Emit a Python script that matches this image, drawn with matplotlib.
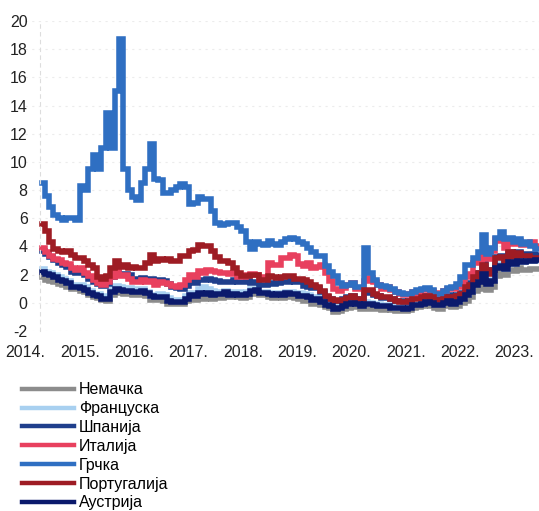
import numpy as np
import matplotlib
matplotlib.use("Agg")
import matplotlib.pyplot as plt

plt.rcParams['font.family'] = ['Liberation Sans', 'DejaVu Sans']

# Monthly 10-year government bond yields, Jan 2014 - Jun 2023 (%)
germany = [
    1.80, 1.65, 1.57, 1.50, 1.35, 1.30, 1.15, 0.95, 0.98, 0.85, 0.75, 0.58,
    0.40, 0.33, 0.20, 0.15, 0.55, 0.80, 0.70, 0.65, 0.62, 0.55, 0.55, 0.60,
    0.45, 0.20, 0.18, 0.20, 0.15, -0.05, -0.10, -0.08, -0.10, 0.10, 0.25, 0.22,
    0.40, 0.25, 0.35, 0.25, 0.35, 0.35, 0.55, 0.38, 0.45, 0.38, 0.37, 0.40,
    0.65, 0.70, 0.55, 0.55, 0.40, 0.35, 0.40, 0.35, 0.45, 0.40, 0.35, 0.25,
    0.15, 0.10, -0.05, 0.00, -0.15, -0.30, -0.40, -0.65, -0.55, -0.45, -0.35, -0.25,
    -0.30, -0.45, -0.45, -0.45, -0.45, -0.42, -0.48, -0.45, -0.50, -0.60, -0.55, -0.57,
    -0.52, -0.35, -0.30, -0.22, -0.15, -0.20, -0.40, -0.45, -0.25, -0.12, -0.30, -0.20,
    0.00, 0.15, 0.40, 0.85, 1.00, 1.50, 0.90, 1.10, 1.90, 2.20, 2.00, 2.35,
    2.25, 2.45, 2.35, 2.35, 2.40, 2.40]
france = [
    2.40, 2.20, 2.10, 2.00, 1.80, 1.70, 1.55, 1.30, 1.30, 1.25, 1.10, 0.85,
    0.60, 0.65, 0.50, 0.40, 0.90, 1.20, 1.10, 1.05, 1.05, 0.90, 0.95, 1.00,
    0.75, 0.50, 0.55, 0.60, 0.55, 0.35, 0.15, 0.20, 0.18, 0.45, 0.70, 0.70,
    1.00, 1.10, 1.00, 0.85, 0.75, 0.80, 0.85, 0.70, 0.75, 0.80, 0.70, 0.78,
    0.95, 0.90, 0.75, 0.80, 0.70, 0.70, 0.70, 0.65, 0.80, 0.75, 0.70, 0.70,
    0.60, 0.55, 0.35, 0.40, 0.25, 0.00, -0.10, -0.35, -0.25, -0.05, 0.00, 0.10,
    0.05, -0.10, 0.05, 0.00, -0.05, -0.10, -0.15, -0.15, -0.25, -0.35, -0.30, -0.35,
    -0.25, -0.05, -0.05, 0.15, 0.20, 0.15, -0.05, -0.05, 0.15, 0.25, 0.10, 0.20,
    0.40, 0.65, 1.00, 1.45, 1.55, 2.15, 1.50, 1.65, 2.60, 2.75, 2.40, 2.95,
    2.75, 3.00, 2.90, 2.95, 2.95, 2.95]
spain = [
    3.70, 3.50, 3.25, 3.05, 2.85, 2.65, 2.55, 2.20, 2.15, 2.15, 1.95, 1.70,
    1.45, 1.35, 1.20, 1.35, 1.80, 2.25, 2.00, 2.05, 1.95, 1.70, 1.60, 1.75,
    1.55, 1.70, 1.45, 1.60, 1.55, 1.35, 1.10, 1.05, 0.95, 1.20, 1.55, 1.40,
    1.65, 1.65, 1.70, 1.60, 1.55, 1.50, 1.50, 1.45, 1.60, 1.50, 1.45, 1.55,
    1.40, 1.50, 1.25, 1.25, 1.40, 1.35, 1.40, 1.45, 1.50, 1.60, 1.50, 1.45,
    1.20, 1.15, 1.05, 1.05, 0.75, 0.40, 0.30, 0.10, 0.15, 0.25, 0.40, 0.45,
    0.30, 0.25, 0.70, 0.75, 0.55, 0.45, 0.35, 0.35, 0.25, 0.15, 0.10, 0.05,
    0.10, 0.40, 0.35, 0.45, 0.50, 0.40, 0.25, 0.30, 0.40, 0.55, 0.45, 0.55,
    0.70, 1.20, 1.40, 1.95, 2.10, 2.80, 2.15, 2.30, 3.25, 3.30, 2.90, 3.60,
    3.30, 3.60, 3.40, 3.45, 3.50, 3.40]
italy = [
    3.90, 3.60, 3.30, 3.10, 3.05, 2.85, 2.75, 2.45, 2.35, 2.45, 2.15, 1.90,
    1.65, 1.40, 1.25, 1.45, 1.85, 2.35, 1.90, 1.95, 1.70, 1.50, 1.50, 1.60,
    1.45, 1.55, 1.25, 1.50, 1.40, 1.35, 1.20, 1.15, 1.25, 1.65, 2.00, 1.85,
    2.25, 2.15, 2.35, 2.25, 2.20, 2.15, 2.10, 2.05, 2.15, 1.85, 1.80, 2.00,
    2.05, 1.95, 1.80, 1.80, 2.80, 2.70, 2.70, 3.20, 3.15, 3.40, 3.30, 2.75,
    2.60, 2.80, 2.50, 2.55, 2.65, 2.15, 1.55, 1.00, 0.85, 1.05, 1.25, 1.40,
    1.00, 1.00, 1.55, 1.75, 1.50, 1.30, 1.00, 1.10, 0.90, 0.75, 0.60, 0.55,
    0.65, 0.75, 0.65, 0.90, 0.90, 0.85, 0.65, 0.70, 0.85, 1.00, 0.95, 1.15,
    1.35, 1.85, 2.05, 2.80, 3.05, 3.35, 3.10, 3.70, 4.50, 4.40, 3.90, 4.55,
    4.15, 4.40, 4.10, 4.20, 4.30, 4.05]
greece = [
    8.50, 7.60, 6.80, 6.20, 6.00, 5.90, 6.00, 6.00, 5.90, 8.30, 8.00, 9.50,
    10.50, 9.50, 11.00, 13.50, 11.00, 15.00, 18.70, 9.50, 8.00, 7.50, 7.30, 8.50,
    9.50, 11.30, 8.80, 8.70, 7.80, 7.80, 8.00, 8.20, 8.40, 8.20, 7.00, 7.10,
    7.50, 7.40, 7.40, 6.50, 5.70, 5.50, 5.60, 5.70, 5.70, 5.40, 5.10, 4.30,
    3.80, 4.30, 4.20, 4.10, 4.40, 4.20, 4.10, 4.30, 4.50, 4.60, 4.50, 4.30,
    4.20, 3.90, 3.60, 3.30, 3.30, 2.60, 2.20, 1.90, 1.40, 1.20, 1.30, 1.40,
    1.10, 1.10, 3.90, 2.10, 1.60, 1.30, 1.20, 1.10, 1.00, 0.80, 0.70, 0.60,
    0.60, 0.80, 0.90, 1.00, 1.05, 0.90, 0.65, 0.60, 0.85, 1.05, 1.15, 1.35,
    1.80, 2.70, 2.70, 3.20, 3.60, 4.80, 3.50, 3.90, 4.60, 5.00, 4.50, 4.60,
    4.30, 4.50, 4.20, 4.30, 4.00, 3.80]
portugal = [
    5.60, 5.10, 4.30, 3.80, 3.70, 3.60, 3.70, 3.40, 3.20, 3.20, 2.95, 2.70,
    2.50, 1.85, 1.70, 1.90, 2.45, 3.00, 2.55, 2.70, 2.45, 2.55, 2.45, 2.50,
    2.80, 3.40, 2.95, 3.10, 3.05, 3.10, 3.00, 2.95, 3.35, 3.30, 3.70, 3.75,
    4.10, 4.05, 4.00, 3.70, 3.25, 3.00, 3.00, 2.85, 2.45, 2.15, 1.90, 1.90,
    1.95, 2.00, 1.65, 1.65, 1.90, 1.80, 1.75, 1.85, 1.90, 1.90, 1.70, 1.70,
    1.65, 1.50, 1.25, 1.15, 0.85, 0.50, 0.30, 0.15, 0.20, 0.15, 0.35, 0.45,
    0.30, 0.25, 0.90, 0.90, 0.60, 0.50, 0.40, 0.40, 0.25, 0.15, 0.05, 0.05,
    0.10, 0.25, 0.25, 0.40, 0.50, 0.40, 0.20, 0.20, 0.30, 0.40, 0.35, 0.45,
    0.65, 1.10, 1.25, 1.85, 2.10, 2.65, 2.05, 2.30, 3.20, 3.25, 2.85, 3.60,
    3.25, 3.55, 3.30, 3.30, 3.20, 3.15]
austria = [
    2.20, 2.05, 1.95, 1.85, 1.65, 1.55, 1.40, 1.15, 1.15, 1.05, 0.90, 0.72,
    0.55, 0.45, 0.30, 0.30, 0.75, 1.00, 0.90, 0.85, 0.85, 0.75, 0.75, 0.85,
    0.70, 0.45, 0.40, 0.42, 0.38, 0.15, 0.05, 0.08, 0.05, 0.30, 0.55, 0.48,
    0.70, 0.60, 0.70, 0.55, 0.60, 0.60, 0.75, 0.55, 0.60, 0.55, 0.52, 0.60,
    0.85, 0.88, 0.70, 0.70, 0.60, 0.55, 0.60, 0.55, 0.70, 0.65, 0.60, 0.50,
    0.45, 0.40, 0.20, 0.25, 0.05, -0.15, -0.25, -0.45, -0.35, -0.20, -0.10, 0.00,
    -0.05, -0.20, -0.05, -0.05, -0.15, -0.20, -0.25, -0.25, -0.35, -0.40, -0.40, -0.42,
    -0.35, -0.15, -0.15, -0.05, 0.05, 0.00, -0.15, -0.15, 0.00, 0.10, -0.05, 0.05,
    0.25, 0.55, 0.80, 1.30, 1.45, 2.05, 1.35, 1.55, 2.45, 2.60, 2.40, 2.90,
    2.75, 3.00, 2.90, 2.95, 3.00, 3.05]

series_names = ["Немачка", "Француска", "Шпанија", "Италија", "Грчка",
                "Португалија", "Аустрија"]
series_values = [germany, france, spain, italy, greece, portugal, austria]
series_colors = ["#8c8c8c", "#a8d0f0", "#1f3f8c", "#e8405e", "#2f6fc2",
                 "#9e1c24", "#0b1a6c"]

year_labels = ["2014.", "2015.", "2016.", "2017.", "2018.", "2019.",
               "2020.", "2021.", "2022.", "2023."]

n = len(germany)
t = 2014 + (np.arange(n) + 0.5) / 12.0

fig = plt.figure(figsize=(5.39, 5.11), dpi=100)
ax = fig.add_axes([25 / 539, 1 - 331 / 511, 514 / 539, 310 / 511])

for name, vals, col in zip(series_names, series_values, series_colors):
    ax.plot(t, vals, color=col, lw=4.0, drawstyle='steps-mid',
            solid_joinstyle='miter', label=name)

ax.set_yticks(np.arange(-2, 21, 2))
ax.set_yticklabels([str(v) for v in range(-2, 21, 2)])

tick_pos = 2013.72 + np.arange(len(year_labels)) * 1.035
ax.set_xticks(tick_pos)
ax.set_xticklabels(year_labels)
ax.set_xlim(2013.71, 2023.5)
ax.set_ylim(-2, 20)

ax.tick_params(axis='both', length=0, labelsize=11.5, colors='#222222')
ax.tick_params(axis='y', pad=9)
ax.tick_params(axis='x', pad=10)

ax.grid(axis='y', color='#ececec', lw=0.8, linestyle=(0, (2, 4)))
ax.set_axisbelow(True)
for s in ['top', 'right', 'bottom']:
    ax.spines[s].set_visible(False)
ax.spines['left'].set_position(('data', 2014.0))
ax.spines['left'].set_color('#dddddd')
ax.spines['left'].set_linestyle((0, (3, 4)))
ax.spines['left'].set_linewidth(0.8)

handles, labels = ax.get_legend_handles_labels()
leg = fig.legend(handles, labels, loc='upper left',
                 bbox_to_anchor=(16 / 539, 1 - 376 / 511),
                 frameon=False, fontsize=11.5, handlelength=3.2,
                 handletextpad=0.35, labelspacing=0.24, borderaxespad=0)
for line in leg.get_lines():
    line.set_linewidth(3.2)

fig.savefig("out.png", dpi=100)
